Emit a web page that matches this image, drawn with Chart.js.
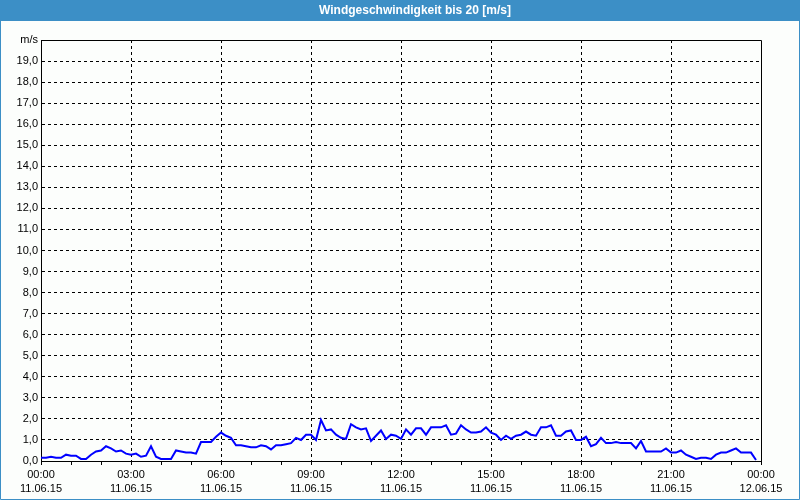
<!DOCTYPE html>
<html>
<head>
<meta charset="utf-8">
<script src="https://cdn.jsdelivr.net/npm/chart.js@4/dist/chart.umd.min.js"></script>
<style>
  html, body { margin: 0; padding: 0; background: #fcfefc; }
  canvas { display: block; }
</style>
</head>
<body>
<canvas id="windChart" width="800" height="500"></canvas>
<script>
// Wind speed in m/s, one reading every 10 minutes from 11.06.15 00:00
const wind = [
    0.15, 0.15, 0.2, 0.15, 0.15, 0.3, 0.25, 0.25, 0.1, 0.1, 0.3, 0.45,
    0.5, 0.7, 0.6, 0.45, 0.5, 0.35, 0.3, 0.35, 0.2, 0.25, 0.7, 0.2,
    0.1, 0.1, 0.1, 0.5, 0.45, 0.4, 0.4, 0.35, 0.9, 0.9, 0.9, 1.15,
    1.35, 1.2, 1.1, 0.75, 0.75, 0.7, 0.65, 0.65, 0.75, 0.7, 0.55, 0.75,
    0.75, 0.8, 0.85, 1.1, 1.0, 1.25, 1.25, 1.0, 1.95, 1.45, 1.5, 1.25,
    1.1, 1.05, 1.75, 1.6, 1.5, 1.55, 0.95, 1.2, 1.45, 1.05, 1.25, 1.2,
    1.05, 1.5, 1.25, 1.55, 1.55, 1.25, 1.6, 1.6, 1.6, 1.7, 1.25, 1.3,
    1.7, 1.5, 1.35, 1.35, 1.4, 1.6, 1.35, 1.25, 1.0, 1.2, 1.05, 1.2,
    1.25, 1.4, 1.25, 1.2, 1.6, 1.6, 1.7, 1.2, 1.2, 1.4, 1.45, 1.0,
    1.0, 1.15, 0.7, 0.8, 1.1, 0.85, 0.85, 0.9, 0.85, 0.85, 0.85, 0.6,
    0.95, 0.45, 0.45, 0.45, 0.45, 0.6, 0.4, 0.4, 0.5, 0.3, 0.2, 0.1,
    0.15, 0.15, 0.1, 0.3, 0.4, 0.4, 0.5, 0.6, 0.4, 0.4, 0.4, 0.05
];
const stepMinutes = 10;

// x axis labels every 3 hours
const timeLabels = ['00:00', '03:00', '06:00', '09:00', '12:00', '15:00', '18:00', '21:00', '00:00'];
const dateLabels = ['11.06.15', '11.06.15', '11.06.15', '11.06.15', '11.06.15', '11.06.15', '11.06.15', '11.06.15', '12.06.15'];
const unitLabel = 'm/s';
const titleText = 'Windgeschwindigkeit bis 20 [m/s]';

const points = wind.map((v, i) => ({ x: i * stepMinutes, y: v }));

// snap to the same half pixel chart.js uses for 1px lines
const snap = px => Math.round(px - 0.5) + 0.5;

// header bar, frame and plot box
const framePlugin = {
    id: 'frame',
    beforeDraw(chart) {
        const ctx = chart.ctx;
        ctx.save();
        ctx.fillStyle = '#fcfefc';
        ctx.fillRect(0, 0, chart.width, chart.height);
        ctx.fillStyle = '#3c8fc6';
        ctx.fillRect(0, 0, chart.width, 21);
        ctx.strokeStyle = '#3c8fc6';
        ctx.lineWidth = 1;
        ctx.beginPath();
        ctx.moveTo(0.5, 0);
        ctx.lineTo(0.5, chart.height - 0.5);
        ctx.lineTo(chart.width - 0.5, chart.height - 0.5);
        ctx.lineTo(chart.width - 0.5, 0);
        ctx.stroke();
        ctx.fillStyle = '#ffffff';
        ctx.font = 'bold 12px "Liberation Sans", Arial, sans-serif';
        ctx.textAlign = 'center';
        ctx.textBaseline = 'middle';
        ctx.fillText(titleText, 415, 11);
        ctx.restore();
    },
    afterDraw(chart) {
        const xs = chart.scales.x;
        const ys = chart.scales.y;
        const left = snap(xs.getPixelForValue(0));
        const right = snap(xs.getPixelForValue(1440));
        const top = snap(ys.getPixelForValue(20));
        const bottom = snap(ys.getPixelForValue(0));
        const ctx = chart.ctx;
        ctx.save();
        ctx.strokeStyle = '#000';
        ctx.lineWidth = 1;
        ctx.setLineDash([]);
        ctx.beginPath();
        ctx.moveTo(left, top);
        ctx.lineTo(right, top);
        ctx.lineTo(right, bottom);
        ctx.stroke();
        ctx.restore();
    }
};

const tickFont = { family: '"Liberation Sans", Arial, sans-serif', size: 11, lineHeight: 1.3 };

const windChart = new Chart(document.getElementById('windChart'), {
    type: 'line',
    data: {
        datasets: [{
            data: points,
            borderColor: '#0000ff',
            borderWidth: 2,
            pointRadius: 0,
            tension: 0,
            fill: false
        }]
    },
    options: {
        responsive: false,
        animation: false,
        layout: { padding: { top: 40, right: 39, left: 0, bottom: 0 } },
        plugins: {
            legend: { display: false },
            tooltip: { enabled: false }
        },
        scales: {
            x: {
                type: 'linear',
                min: 0,
                max: 1440,
                afterFit: s => { s.height = 39; },
                ticks: {
                    stepSize: 60,
                    autoSkip: false,
                    maxRotation: 0,
                    padding: 3,
                    color: '#000',
                    font: tickFont,
                    callback: v => v % 180 === 0 ? [timeLabels[v / 180], dateLabels[v / 180]] : ''
                },
                grid: {
                    color: ctx => (ctx.tick && ctx.tick.value % 180 === 0 && ctx.tick.value < 1440) ? '#000' : 'rgba(0,0,0,0)',
                    tickColor: '#000',
                    tickLength: 4,
                    tickBorderDash: []
                },
                border: { display: true, color: '#000', width: 1, dash: [3, 3] }
            },
            y: {
                min: 0,
                max: 20,
                afterFit: s => { s.width = 41; },
                ticks: {
                    stepSize: 1,
                    padding: 3,
                    color: '#000',
                    font: tickFont,
                    callback: v => v === 20 ? unitLabel : v.toFixed(1).replace('.', ',')
                },
                grid: {
                    color: ctx => (ctx.tick && ctx.tick.value < 20) ? '#000' : 'rgba(0,0,0,0)',
                    drawTicks: false
                },
                border: { display: true, color: '#000', width: 1, dash: [3, 3] }
            }
        }
    },
    plugins: [framePlugin]
});
</script>
</body>
</html>
